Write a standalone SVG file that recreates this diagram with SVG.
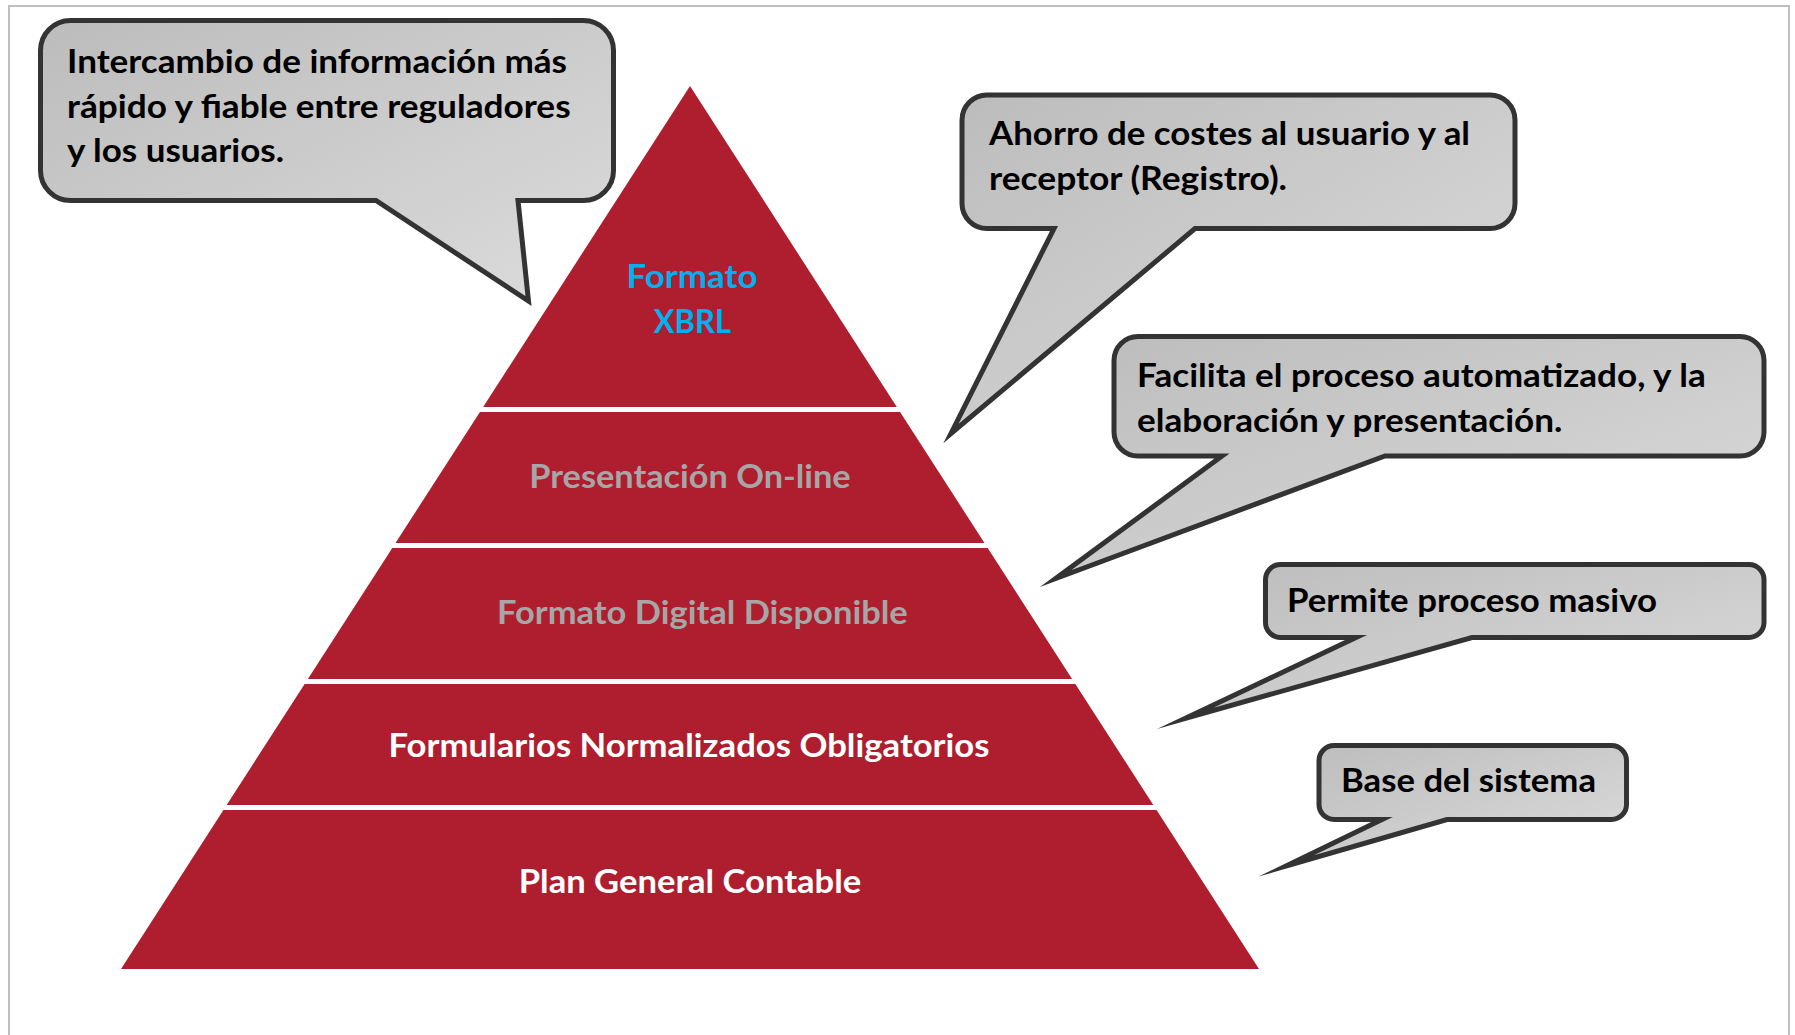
<svg xmlns="http://www.w3.org/2000/svg" width="1795" height="1035" viewBox="0 0 1795 1035">
<style>
.frame{fill:none;stroke:#BFBFBF;stroke-width:2}
.lvl{fill:#AE1E2E}
.callout{fill:url(#cg);stroke:#333333;stroke-width:5;stroke-linejoin:miter;stroke-miterlimit:30}
.t{font-family:Lato,"Open Sans","Liberation Sans",sans-serif;font-weight:700;font-size:33px}
.dark{fill:#000000}
.white{fill:#FFFFFF}
.grey{fill:#A6A6A6}
.blue{fill:#00B0F0}
</style>
<defs>
<linearGradient id="cg" x1="0" y1="0" x2="1" y2="1">
<stop offset="0" stop-color="#BCBCBC"/>
<stop offset="1" stop-color="#DCDCDC"/>
</linearGradient>
</defs>
<rect width="1795" height="1035" fill="#FFFFFF"/>
<path class="frame" d="M9,1040 V6 H1789 V1040"/>
<g id="pyramid">
<g id="level-xbrl">
<polygon class="lvl" points="690,86 896.85,407 483.15,407"/>
<text class="t blue" x="692" y="288" text-anchor="middle" textLength="131" lengthAdjust="spacingAndGlyphs">Formato</text>
<text class="t blue" x="692.5" y="333" text-anchor="middle" textLength="77.5" lengthAdjust="spacingAndGlyphs">XBRL</text>
</g>
<g id="level-online">
<polygon class="lvl" points="479.93,412 900.07,412 984.49,543 395.51,543"/>
<text class="t grey" x="690" y="488" text-anchor="middle" textLength="321.4" lengthAdjust="spacingAndGlyphs">Presentación On-line</text>
</g>
<g id="level-digital">
<polygon class="lvl" points="392.29,548 987.71,548 1072.13,679 307.87,679"/>
<text class="t grey" x="702.4" y="624" text-anchor="middle" textLength="410.6" lengthAdjust="spacingAndGlyphs">Formato Digital Disponible</text>
</g>
<g id="level-formularios">
<polygon class="lvl" points="304.65,684 1075.35,684 1153.32,805 226.68,805"/>
<text class="t white" x="689" y="756.5" text-anchor="middle" textLength="600.9" lengthAdjust="spacingAndGlyphs">Formularios Normalizados Obligatorios</text>
</g>
<g id="level-plan">
<polygon class="lvl" points="223.46,810 1156.54,810 1259,969 121,969"/>
<text class="t white" x="690" y="892.5" text-anchor="middle" textLength="342.6" lengthAdjust="spacingAndGlyphs">Plan General Contable</text>
</g>
</g>
<g id="connectors"/>
<g id="callout-intercambio">
<path class="callout" d="M70.5,20.5 H583.5 A30,30 0 0 1 613.5,50.5 V170.5 A30,30 0 0 1 583.5,200.5 H518 L528.5,301 L376,200.5 H70.5 A30,30 0 0 1 40.5,170.5 V50.5 A30,30 0 0 1 70.5,20.5 Z"/>
<text class="t dark" x="67" y="73" textLength="500" lengthAdjust="spacingAndGlyphs">Intercambio de información más</text>
<text class="t dark" x="67" y="117.5" textLength="503.6" lengthAdjust="spacingAndGlyphs">rápido y fiable entre reguladores</text>
<text class="t dark" x="67" y="162" textLength="217" lengthAdjust="spacingAndGlyphs">y los usuarios.</text>
</g>
<g id="callout-ahorro">
<path class="callout" d="M987,95 H1490 A25,25 0 0 1 1515,120 V203.5 A25,25 0 0 1 1490,228.5 H1195 L951,433.5 L1054,228.5 H987 A25,25 0 0 1 962,203.5 V120 A25,25 0 0 1 987,95 Z"/>
<text class="t dark" x="989" y="145" textLength="481" lengthAdjust="spacingAndGlyphs">Ahorro de costes al usuario y al</text>
<text class="t dark" x="989" y="190" textLength="298" lengthAdjust="spacingAndGlyphs">receptor (Registro).</text>
</g>
<g id="callout-facilita">
<path class="callout" d="M1138,336.5 H1740 A24,24 0 0 1 1764,360.5 V432 A24,24 0 0 1 1740,456 H1385 L1055.7,578.5 L1222,456 H1138 A24,24 0 0 1 1114,432 V360.5 A24,24 0 0 1 1138,336.5 Z"/>
<text class="t dark" x="1137" y="387" textLength="568.7" lengthAdjust="spacingAndGlyphs">Facilita el proceso automatizado, y la</text>
<text class="t dark" x="1137" y="432" textLength="425.4" lengthAdjust="spacingAndGlyphs">elaboración y presentación.</text>
</g>
<g id="callout-permite">
<path class="callout" d="M1280.5,564.5 H1749 A15,15 0 0 1 1764,579.5 V622.5 A15,15 0 0 1 1749,637.5 H1472 L1185,718.5 L1356,637.5 H1280.5 A15,15 0 0 1 1265.5,622.5 V579.5 A15,15 0 0 1 1280.5,564.5 Z"/>
<text class="t dark" x="1287" y="611.5" textLength="370" lengthAdjust="spacingAndGlyphs">Permite proceso masivo</text>
</g>
<g id="callout-base">
<path class="callout" d="M1334,745.5 H1611.5 A15,15 0 0 1 1626.5,760.5 V804.5 A15,15 0 0 1 1611.5,819.5 H1447 L1286,866 L1382,819.5 H1334 A15,15 0 0 1 1319,804.5 V760.5 A15,15 0 0 1 1334,745.5 Z"/>
<text class="t dark" x="1341" y="792" textLength="255" lengthAdjust="spacingAndGlyphs">Base del sistema</text>
</g>
</svg>
